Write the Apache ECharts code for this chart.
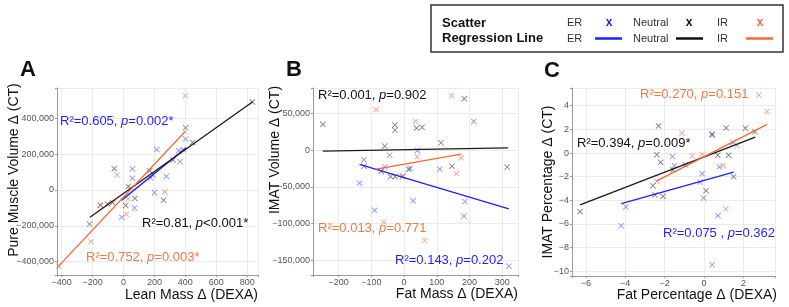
<!DOCTYPE html>
<html>
<head>
<meta charset="utf-8">
<title>Regression panels</title>
<script src="https://cdn.jsdelivr.net/npm/echarts@6/dist/echarts.min.js"></script>
<style>
  html, body { margin: 0; padding: 0; background: #fff; }
  #chart { width: 789px; height: 307px; }
</style>
</head>
<body>
<div id="chart"></div>
<script>
// ---- data ----
// panel A: Lean Mass delta (DEXA) vs Pure Muscle Volume delta (CT)
var aER = [[58, 118000], [215, 226000], [402, 285000], [358, 220000], [388, 225000], [366, 158000],
  [277, 76000], [58, 65000], [176, 67000], [190, 84000], [201, -15000], [71, -100000], [-11, -152000]];
var aNeutral = [[834, 492000], [402, 348000], [447, 266000], [320, 167000], [170, 108000], [-60, 120000],
  [31, 20000], [74, -47000], [14, -86000], [259, -57000], [-70, -70000], [-103, -78000], [-150, -85000], [-219, -190000]];
var aIR = [[400, 527000], [-42, 84000], [-148, -86000], [268, -11000], [31, -50000], [18, -136000],
  [-211, -289000], [-420, -425000], [48, 12000]];
var aLineER = [[-13, -58000], [405, 236000]];
var aLineNeutral = [[-217, -152000], [836, 493000]];
var aLineIR = [[-423, -428000], [402, 330000]];
var aXTicks = [-400, -200, 0, 200, 400, 600, 800];
var aYTicks = [-400000, -200000, 0, 200000, 400000];

// panel B: Fat Mass delta (DEXA) vs IMAT Volume delta (CT)
var bER = [[213, 39000], [41, -500], [-44, -7000], [-123, -13000], [-59, -23000], [19, -25000], [109, -26000],
  [-136, -45000], [28, -69000], [186, -70000], [-90, -82000], [183, -90000], [320, -158000]];
var bNeutral = [[-248, 35000], [184, 70000], [-59, 5500], [-28, 34000], [-28, 27000], [38, 30000], [55, 31000],
  [113, 10000], [-122, -22000], [-70, -29000], [-41, -36000], [-27, -36000], [-5, -36000], [14, -26000],
  [146, -22000], [315, -23000]];
var bIR = [[145, 74000], [-85, 55000], [35, 39000], [40, -9000], [174, -10500], [160, -32000], [-3, -35000],
  [-62, -98000], [63, -123000]];
var bLineER = [[-136, -19500], [320, -80000]];
var bLineNeutral = [[-248, -1400], [318, 3000]];
var bLineIR = [[-85, -26000], [174, -5500]];
var bXTicks = [-200, -100, 0, 100, 200, 300];
var bYTicks = [-150000, -100000, -50000, 0, 50000];

// panel C: Fat Percentage delta (DEXA) vs IMAT Percentage delta (CT)
var cER = [[-4.2, -6.15], [-3.97, -4.56], [-1.6, -0.3], [-1.5, -1.07], [-0.95, -1.0], [-0.1, -1.74], [-0.2, -2.45],
  [-0.02, -3.8], [0.41, 1.5], [1.47, 0.9], [0.78, -1.17], [0.71, -5.3], [0.41, -9.45]];
var cNeutral = [[-6.29, -4.95], [-2.31, 2.29], [-2.4, -0.14], [-2.2, -0.79], [-2.59, -2.76], [-2.49, -3.55],
  [-2.08, -3.66], [-1.58, -1.42], [0.1, -3.18], [0.41, 1.6], [0.69, -0.18], [1.12, 2.12], [1.25, -0.18],
  [1.5, -2.0], [2.1, 2.1], [2.58, 1.8]];
var cIR = [[2.78, 4.9], [3.2, 3.5], [-1.12, 1.68], [-0.6, -0.25], [-0.1, -0.12], [-2.39, -2.38], [1.69, 0.65],
  [0.98, -1.07], [1.1, -4.72]];
var cLineER = [[-4.2, -4.27], [1.5, -1.62]];
var cLineNeutral = [[-6.29, -4.39], [2.6, 1.34]];
var cLineIR = [[-2.42, -2.38], [3.2, 2.42]];
var cXTicks = [-6, -4, -2, 0, 2];
var cYTicks = [-10, -8, -6, -4, -2, 0, 2, 4];

// ---- styling ----
var FONT = 'Liberation Sans, Arial, sans-serif';
var COL_ER = '#1f1fff', COL_NEU = '#1a1a1a', COL_IR = '#f26a36';
var PT_ER = 'rgba(50,50,255,0.7)', PT_NEU = 'rgba(40,40,40,0.75)', PT_IR = 'rgba(242,110,60,0.8)';
var CROSS = 'path://M0,1L1,0L5,4L9,0L10,1L6,5L10,9L9,10L5,6L1,10L0,9L4,5Z';

function tickText(v, ticks) {
  if (ticks.indexOf(v) < 0) return '';
  var s = Math.abs(v).toString().replace(/\B(?=(\d{3})+(?!\d))/g, ',');
  return v < 0 ? '\u2212' + s : s;
}

function axis(grid, min, max, step, ticks) {
  return {
    type: 'value',
    gridIndex: grid,
    min: min,
    max: max,
    minInterval: step,
    maxInterval: step,
    axisLine: { show: true, onZero: false, lineStyle: { color: '#9a9a9a', width: 1 } },
    axisTick: { show: true, length: 2, lineStyle: { color: '#9a9a9a' } },
    splitLine: { show: true, lineStyle: { color: '#ebebeb', width: 1 } },
    axisLabel: {
      fontFamily: FONT, fontSize: 9, color: '#555', margin: 3,
      formatter: function (v) { return tickText(v, ticks); }
    }
  };
}

function scatter(grid, data, color) {
  return {
    type: 'scatter', xAxisIndex: grid, yAxisIndex: grid, data: data,
    symbol: CROSS, symbolSize: 6, itemStyle: { color: color }, silent: true
  };
}

function fit(grid, data, color) {
  return {
    type: 'line', xAxisIndex: grid, yAxisIndex: grid, data: data,
    symbol: 'none', lineStyle: { color: color, width: 1.3 }, silent: true, z: 3
  };
}

// R^2 / p annotation with an italic p
function stat(x, y, r2, p, color) {
  return {
    type: 'text', x: x, y: y, z: 10,
    style: {
      text: '{n|R\u00b2=' + r2 + ', }{i|p}{n|' + p + '}',
      verticalAlign: 'middle',
      rich: {
        n: { fill: color, fontSize: 13, fontFamily: FONT },
        i: { fill: color, fontSize: 13, fontFamily: FONT, fontStyle: 'italic' }
      }
    }
  };
}

function label(x, y, text, size, weight, align, rot, color) {
  return {
    type: 'text', x: x, y: y, rotation: rot || 0, z: 10,
    style: {
      text: text, fill: color || '#111', fontSize: size, fontWeight: weight || 'normal',
      fontFamily: FONT, align: align || 'left', verticalAlign: 'middle'
    }
  };
}

var chart = echarts.init(document.getElementById('chart'), null, { renderer: 'canvas' });

var option = {
  animation: false,
  backgroundColor: '#fff',
  grid: [
    { left: 57, right: 531, top: 88, bottom: 32 },
    { left: 313, right: 271, top: 88, bottom: 32 },
    { left: 572, right: 14, top: 88, bottom: 31 }
  ],
  xAxis: [
    axis(0, -430, 870, 200, aXTicks),
    axis(1, -278, 348, 100, bXTicks),
    axis(2, -6.7, 3.6, 2, cXTicks)
  ],
  yAxis: [
    axis(0, -475000, 570000, 200000, aYTicks),
    axis(1, -170000, 84500, 50000, bYTicks),
    axis(2, -10.4, 5.5, 2, cYTicks)
  ],
  series: [
    scatter(0, aER, PT_ER), scatter(0, aNeutral, PT_NEU), scatter(0, aIR, PT_IR),
    fit(0, aLineER, COL_ER), fit(0, aLineNeutral, COL_NEU), fit(0, aLineIR, COL_IR),
    scatter(1, bER, PT_ER), scatter(1, bNeutral, PT_NEU), scatter(1, bIR, PT_IR),
    fit(1, bLineER, COL_ER), fit(1, bLineNeutral, COL_NEU), fit(1, bLineIR, COL_IR),
    scatter(2, cER, PT_ER), scatter(2, cNeutral, PT_NEU), scatter(2, cIR, PT_IR),
    fit(2, cLineER, COL_ER), fit(2, cLineNeutral, COL_NEU), fit(2, cLineIR, COL_IR)
  ],
  graphic: [
    // panel letters
    label(20, 70, 'A', 22, 'bold'),
    label(286, 70, 'B', 22, 'bold'),
    label(544, 71, 'C', 22, 'bold'),
    // axis titles
    label(14, 170, 'Pure Muscle Volume \u0394 (CT)', 14, 'normal', 'center', Math.PI / 2),
    label(258, 295, 'Lean Mass \u0394 (DEXA)', 14, 'normal', 'right'),
    label(275, 150, 'IMAT Volume \u0394 (CT)', 14, 'normal', 'center', Math.PI / 2),
    label(518, 294, 'Fat Mass \u0394 (DEXA)', 14, 'normal', 'right'),
    label(548, 182, 'IMAT Percentage \u0394 (CT)', 14, 'normal', 'center', Math.PI / 2),
    label(777, 295, 'Fat Percentage \u0394 (DEXA)', 14, 'normal', 'right'),
    // stats
    stat(60, 121, '0.605', '=0.002*', COL_ER),
    stat(142, 223, '0.81', '<0.001*', '#111'),
    stat(86, 257, '0.752', '=0.003*', '#ef7a45'),
    stat(318, 95, '0.001', '=0.902', '#111'),
    stat(318, 228, '0.013', '=0.771', '#ef7a45'),
    stat(395, 260, '0.143', '=0.202', COL_ER),
    stat(640, 94, '0.270', '=0.151', '#ef7a45'),
    stat(577, 143, '0.394', '=0.009*', '#111'),
    stat(663, 233, '0.075 ', '=0.362', COL_ER),
    // legend box
    {
      type: 'rect', z: 9,
      shape: { x: 431, y: 5, width: 352, height: 47 },
      style: { fill: '#fff', stroke: '#333', lineWidth: 1.5 }
    },
    label(442, 23, 'Scatter', 13, 'bold'),
    label(442, 38.5, 'Regression Line', 13, 'bold'),
    label(567, 23, 'ER', 11, 'normal', 'left', 0, '#333'),
    label(633, 23, 'Neutral', 11, 'normal', 'left', 0, '#333'),
    label(717, 23, 'IR', 11, 'normal', 'left', 0, '#333'),
    label(567, 38.5, 'ER', 11, 'normal', 'left', 0, '#333'),
    label(633, 38.5, 'Neutral', 11, 'normal', 'left', 0, '#333'),
    label(717, 38.5, 'IR', 11, 'normal', 'left', 0, '#333'),
    label(609, 23, 'x', 12, 'bold', 'center', 0, COL_ER),
    label(689, 23, 'x', 12, 'bold', 'center', 0, '#111'),
    label(760, 23, 'x', 12, 'bold', 'center', 0, COL_IR),
    { type: 'line', z: 10, shape: { x1: 595, y1: 38.5, x2: 622, y2: 38.5 }, style: { stroke: COL_ER, lineWidth: 2.5 } },
    { type: 'line', z: 10, shape: { x1: 676, y1: 38.5, x2: 703, y2: 38.5 }, style: { stroke: '#111', lineWidth: 2.5 } },
    { type: 'line', z: 10, shape: { x1: 746, y1: 38.5, x2: 773, y2: 38.5 }, style: { stroke: COL_IR, lineWidth: 2.5 } }
  ]
};

chart.setOption(option);
</script>
</body>
</html>
